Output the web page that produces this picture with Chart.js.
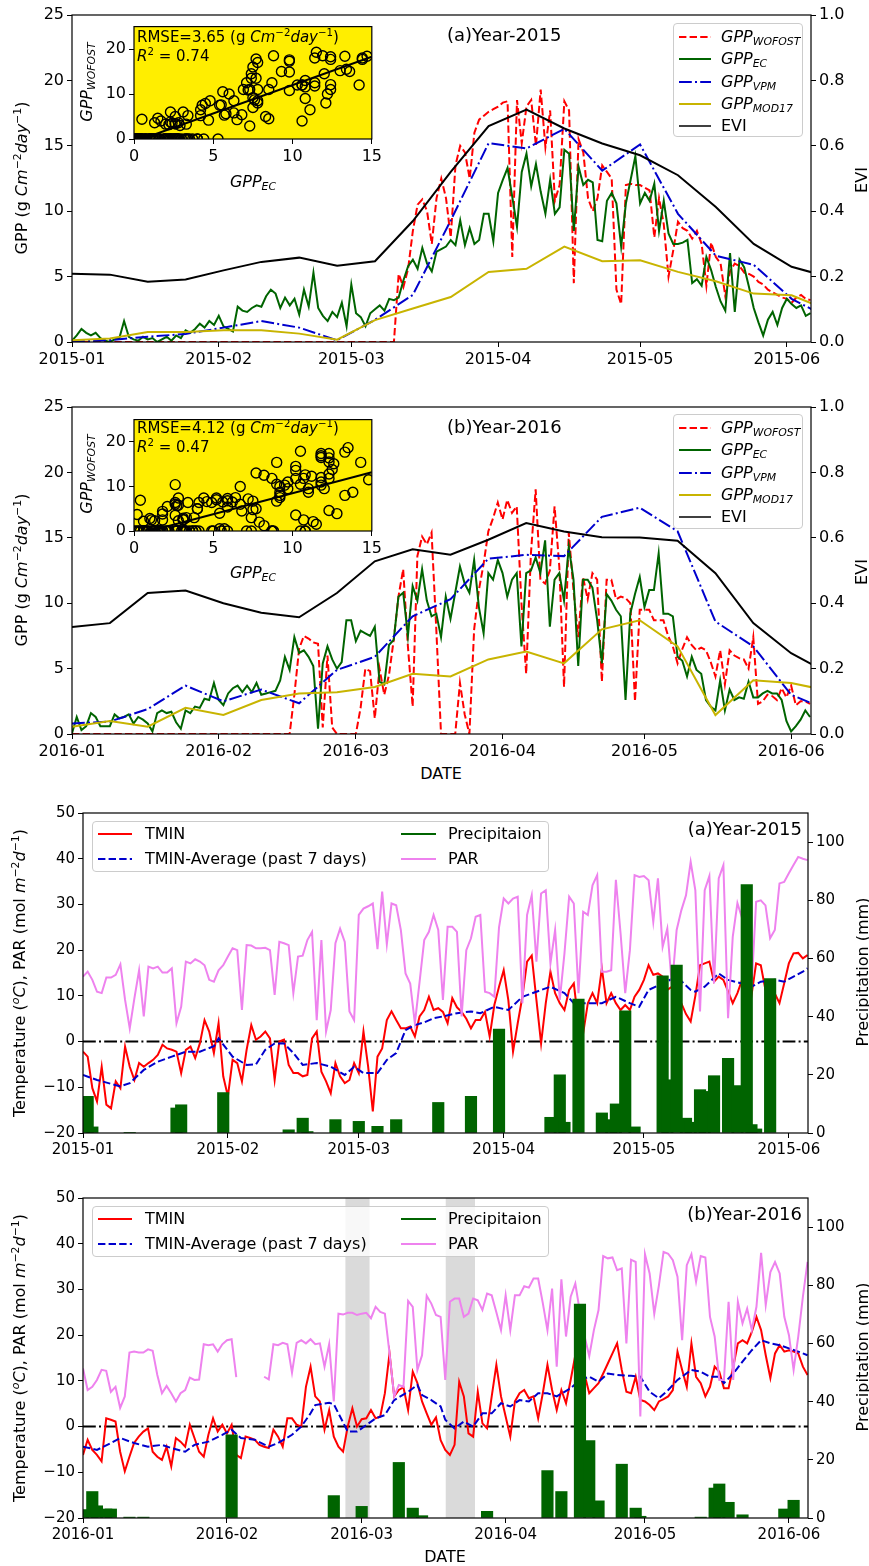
<!DOCTYPE html>
<html>
<head>
<meta charset="utf-8">
<title>GPP and weather, 2015-2016</title>
<script src="https://cdn.jsdelivr.net/npm/chart.js@4/dist/chart.umd.min.js"></script>
<style>
  html, body { margin:0; padding:0; background:#fff; }
  body { position:relative; width:869px; height:1566px; overflow:hidden; font-family:"DejaVu Sans", sans-serif; color:#000; }
  canvas { position:absolute; }
  .txt { position:absolute; white-space:nowrap; line-height:1; }
  .vc { transform:translateY(-50%); }
  .ctr { transform:translate(-50%,-50%); }
  .rt { transform:translate(-100%,-50%); }
  .rot { transform:translate(-50%,-50%) rotate(-90deg); }
  sub { font-size:0.68em; vertical-align:-0.3em; line-height:0; }
  sup { font-size:0.68em; vertical-align:0.55em; line-height:0; }
  .legend { position:absolute; border:1px solid #cccccc; border-radius:4px; background:rgba(255,255,255,0.8); box-sizing:border-box; }
  .legend svg { position:absolute; }
  .legend span { position:absolute; white-space:nowrap; line-height:1; transform:translateY(-50%); }
</style>
</head>
<body>
<canvas id="gpp2015" width="869" height="372" style="left:0;top:0"></canvas>
<canvas id="gpp2016" width="869" height="370" style="left:0;top:392px"></canvas>
<canvas id="met2015" width="869" height="362" style="left:0;top:798px"></canvas>
<canvas id="met2016" width="869" height="370" style="left:0;top:1183px"></canvas>
<canvas id="ins2015" width="290" height="170" style="left:95px;top:14px"></canvas>
<canvas id="ins2016" width="290" height="170" style="left:95px;top:407px"></canvas>

<!-- panel 1 -->
<div class="txt rot" style="left:22px;top:178px;font-size:16px">GPP (g <i>Cm</i><sup>−2</sup><i>day</i><sup>−1</sup>)</div>
<div class="txt rot" style="left:862px;top:180px;font-size:16px">EVI</div>
<div class="txt vc" style="left:447px;top:35px;font-size:18px">(a)Year-2015</div>
<div class="legend" style="left:673px;top:23px;width:130px;height:114px;font-size:16px">
  <svg width="32" height="10" style="left:5px;top:8px"><line x1="0" y1="5" x2="32" y2="5" stroke="#ff0000" stroke-width="2" stroke-dasharray="7.4,3.2"/></svg>
  <span style="left:47px;top:13px"><i>GPP<sub>WOFOST</sub></i></span>
  <svg width="32" height="10" style="left:5px;top:30px"><line x1="0" y1="5" x2="32" y2="5" stroke="#006400" stroke-width="2"/></svg>
  <span style="left:47px;top:35px"><i>GPP<sub>EC</sub></i></span>
  <svg width="32" height="10" style="left:5px;top:53px"><line x1="0" y1="5" x2="32" y2="5" stroke="#0000cd" stroke-width="2" stroke-dasharray="12.8,3.2,2,3.2"/></svg>
  <span style="left:47px;top:58px"><i>GPP<sub>VPM</sub></i></span>
  <svg width="32" height="10" style="left:5px;top:75px"><line x1="0" y1="5" x2="32" y2="5" stroke="#c8b400" stroke-width="2"/></svg>
  <span style="left:47px;top:80px"><i>GPP<sub>MOD17</sub></i></span>
  <svg width="32" height="10" style="left:5px;top:97px"><line x1="0" y1="5" x2="32" y2="5" stroke="#000" stroke-width="1.5"/></svg>
  <span style="left:47px;top:102px">EVI</span>
</div>
<div class="txt rot" style="left:87px;top:82px;font-size:16px"><i>GPP<sub>WOFOST</sub></i></div>
<div class="txt ctr" style="left:253px;top:182px;font-size:16px"><i>GPP<sub>EC</sub></i></div>
<div class="txt vc" id="rmse2015" style="left:137px;top:37px;font-size:15px"></div>
<div class="txt vc" id="r2_2015" style="left:137px;top:56px;font-size:15px"></div>

<!-- panel 2 -->
<div class="txt rot" style="left:22px;top:570px;font-size:16px">GPP (g <i>Cm</i><sup>−2</sup><i>day</i><sup>−1</sup>)</div>
<div class="txt rot" style="left:862px;top:572px;font-size:16px">EVI</div>
<div class="txt vc" style="left:447px;top:427px;font-size:18px">(b)Year-2016</div>
<div class="txt ctr" style="left:441px;top:774px;font-size:16px">DATE</div>
<div class="legend" style="left:673px;top:414px;width:130px;height:115px;font-size:16px">
  <svg width="32" height="10" style="left:5px;top:8px"><line x1="0" y1="5" x2="32" y2="5" stroke="#ff0000" stroke-width="2" stroke-dasharray="7.4,3.2"/></svg>
  <span style="left:47px;top:13px"><i>GPP<sub>WOFOST</sub></i></span>
  <svg width="32" height="10" style="left:5px;top:30px"><line x1="0" y1="5" x2="32" y2="5" stroke="#006400" stroke-width="2"/></svg>
  <span style="left:47px;top:35px"><i>GPP<sub>EC</sub></i></span>
  <svg width="32" height="10" style="left:5px;top:53px"><line x1="0" y1="5" x2="32" y2="5" stroke="#0000cd" stroke-width="2" stroke-dasharray="12.8,3.2,2,3.2"/></svg>
  <span style="left:47px;top:58px"><i>GPP<sub>VPM</sub></i></span>
  <svg width="32" height="10" style="left:5px;top:75px"><line x1="0" y1="5" x2="32" y2="5" stroke="#c8b400" stroke-width="2"/></svg>
  <span style="left:47px;top:80px"><i>GPP<sub>MOD17</sub></i></span>
  <svg width="32" height="10" style="left:5px;top:97px"><line x1="0" y1="5" x2="32" y2="5" stroke="#000" stroke-width="1.5"/></svg>
  <span style="left:47px;top:102px">EVI</span>
</div>
<div class="txt rot" style="left:87px;top:474px;font-size:16px"><i>GPP<sub>WOFOST</sub></i></div>
<div class="txt ctr" style="left:253px;top:573px;font-size:16px"><i>GPP<sub>EC</sub></i></div>
<div class="txt vc" id="rmse2016" style="left:137px;top:428px;font-size:15px"></div>
<div class="txt vc" id="r2_2016" style="left:137px;top:447px;font-size:15px"></div>

<!-- panel 3 -->
<div class="txt rot" style="left:20px;top:973px;font-size:16px">Temperature (<i><sup>o</sup>C</i>), PAR (mol <i>m</i><sup>−2</sup><i>d</i><sup>−1</sup>)</div>
<div class="txt rot" style="left:863px;top:972px;font-size:16px">Precipitation (mm)</div>
<div class="txt rt" style="left:802px;top:829px;font-size:18px">(a)Year-2015</div>
<div class="legend" style="left:92px;top:821px;width:457px;height:51px;font-size:16px">
  <svg width="34" height="10" style="left:5px;top:7px"><line x1="0" y1="5" x2="34" y2="5" stroke="#ff0000" stroke-width="2"/></svg>
  <span style="left:52px;top:12px">TMIN</span>
  <svg width="34" height="10" style="left:5px;top:32px"><line x1="0" y1="5" x2="34" y2="5" stroke="#0000cd" stroke-width="2" stroke-dasharray="7.4,3.2"/></svg>
  <span style="left:52px;top:37px">TMIN-Average (past 7 days)</span>
  <svg width="35" height="10" style="left:308px;top:7px"><line x1="0" y1="5" x2="35" y2="5" stroke="#006400" stroke-width="2"/></svg>
  <span style="left:355px;top:12px">Precipitaion</span>
  <svg width="35" height="10" style="left:308px;top:32px"><line x1="0" y1="5" x2="35" y2="5" stroke="#ee82ee" stroke-width="2"/></svg>
  <span style="left:355px;top:37px">PAR</span>
</div>

<!-- panel 4 -->
<div class="txt rot" style="left:20px;top:1358px;font-size:16px">Temperature (<i><sup>o</sup>C</i>), PAR (mol <i>m</i><sup>−2</sup><i>d</i><sup>−1</sup>)</div>
<div class="txt rot" style="left:863px;top:1357px;font-size:16px">Precipitation (mm)</div>
<div class="txt rt" style="left:802px;top:1214px;font-size:18px">(b)Year-2016</div>
<div class="txt ctr" style="left:445px;top:1557px;font-size:16px">DATE</div>
<div class="legend" style="left:92px;top:1206px;width:457px;height:51px;font-size:16px">
  <svg width="34" height="10" style="left:5px;top:7px"><line x1="0" y1="5" x2="34" y2="5" stroke="#ff0000" stroke-width="2"/></svg>
  <span style="left:52px;top:12px">TMIN</span>
  <svg width="34" height="10" style="left:5px;top:32px"><line x1="0" y1="5" x2="34" y2="5" stroke="#0000cd" stroke-width="2" stroke-dasharray="7.4,3.2"/></svg>
  <span style="left:52px;top:37px">TMIN-Average (past 7 days)</span>
  <svg width="35" height="10" style="left:308px;top:7px"><line x1="0" y1="5" x2="35" y2="5" stroke="#006400" stroke-width="2"/></svg>
  <span style="left:355px;top:12px">Precipitaion</span>
  <svg width="35" height="10" style="left:308px;top:32px"><line x1="0" y1="5" x2="35" y2="5" stroke="#ee82ee" stroke-width="2"/></svg>
  <span style="left:355px;top:37px">PAR</span>
</div>

<script>
// ---- axes: day of year (0 = Jan 1) and month tick labels
var months2015 = [0, 31, 59, 90, 120, 151];
var monthLabels2015 = ['2015-01', '2015-02', '2015-03', '2015-04', '2015-05', '2015-06'];
var months2016 = [0, 31, 60, 91, 121, 152];
var monthLabels2016 = ['2016-01', '2016-02', '2016-03', '2016-04', '2016-05', '2016-06'];

// ---- 8-day products (EVI, VPM, MOD17), node days
var nodeDays = [0, 8, 16, 24, 32, 40, 48, 56, 64, 72, 80, 88, 96, 104, 112, 120, 128, 136, 144, 152, 160];
var evi2015 = [0.209, 0.206, 0.184, 0.191, 0.219, 0.245, 0.258, 0.233, 0.247, 0.37, 0.52, 0.66, 0.711, 0.653, 0.607, 0.571, 0.51, 0.413, 0.30, 0.23, 0.198];
var vpm2015 = [0, 0.15, 0.4, 0.62, 1.1, 1.6, 1.1, 0.13, 1.7, 3.6, 9.3, 15.2, 14.8, 16.3, 13.1, 15.1, 9.8, 6.6, 5.9, 3.3, 1.8];
var mod17_2015 = [0.13, 0.26, 0.77, 0.77, 0.9, 0.9, 0.64, 0.18, 1.67, 2.56, 3.44, 5.36, 5.6, 7.3, 6.17, 6.25, 5.36, 4.64, 3.7, 3.57, 2.4];
var evi2016 = [0.327, 0.339, 0.431, 0.439, 0.40, 0.371, 0.357, 0.431, 0.528, 0.565, 0.548, 0.594, 0.645, 0.619, 0.602, 0.601, 0.591, 0.492, 0.339, 0.247, 0.185];
var vpm2016 = [0.8, 0.95, 1.9, 3.7, 2.5, 3.4, 2.35, 4.9, 5.9, 9.0, 10.3, 13.4, 13.7, 13.6, 16.6, 17.3, 15.5, 8.6, 6.7, 3.0, 1.8];
var mod17_2016 = [0.56, 1.0, 0.56, 2.0, 1.45, 2.6, 3.1, 3.2, 3.6, 4.6, 4.4, 5.7, 6.3, 5.4, 8.0, 8.7, 6.7, 1.45, 4.1, 3.9, 3.3];

// ---- daily GPP (index = day of year)
var ec2015 = [
  0.1, 0.5, 1.0, 0.7, 0.5, 0.7, 0.3, 0.1, 0.0, 0.2,
  0.3, 1.6, 0.4, 0.2, 0.1, 0.4, 0.2, 0.3, 0.0, 0.2,
  0.4, 0.1, 0.5, 0.3, 0.9, 0.7, 1.0, 1.4, 1.1, 1.6,
  1.3, 2.0, 1.2, 1.0, 0.8, 2.7, 2.4, 2.3, 2.6, 2.8,
  2.7, 3.5, 4.0, 3.7, 2.6, 3.4, 2.8, 3.3, 2.1, 4.0,
  2.7, 5.3, 2.6, 2.0, 1.6, 2.3, 1.9, 3.0, 1.2, 4.4,
  2.2, 1.9, 1.2, 2.2, 2.5, 2.8, 2.4, 3.3, 3.2, 3.4,
  4.7, 5.8, 6.3, 5.6, 7.2, 6.0, 5.4, 6.9, 7.1, 7.3,
  7.8, 7.4, 9.3, 7.4, 8.7, 7.5, 7.8, 9.8, 9.8, 7.7,
  11.4, 12.4, 13.3, 11.1, 8.8, 13.0, 14.4, 11.9, 13.6, 11.5,
  9.8, 12.4, 9.8, 10.3, 14.7, 14.4, 8.5, 13.4, 12.0, 12.4,
  12.2, 7.8, 7.7, 10.8, 11.4, 10.6, 7.3, 10.6, 12.4, 14.2,
  10.6, 11.4, 10.8, 12.1, 8.5, 10.8, 8.3, 7.5, 7.5, 7.6,
  7.8, 4.5, 4.8, 4.3, 6.5, 5.5, 4.2, 3.1, 2.4, 6.8,
  2.3, 6.3, 5.7, 4.2, 2.6, 1.5, 0.5, 1.7, 2.3, 1.3,
  2.6, 3.3, 2.9, 2.6, 2.8, 2.0, 2.2
];
var wofost2015 = [
  0, 0, 0, 0, 0, 0, 0, 0, 0, 0,
  0, 0, 0, 0, 0, 0, 0, 0, 0, 0,
  0, 0, 0, 0, 0, 0, 0, 0, 0, 0,
  0, 0, 0, 0, 0, 0, 0, 0, 0, 0,
  0, 0, 0, 0, 0, 0, 0, 0, 0, 0,
  0, 0, 0, 0, 0, 0, 0, 0, 0, 0,
  0, 0, 0, 0, 0, 0, 0, 0, 0,
  5.2, 4.2, 5.6, 8.5, 10.5, 10.9, 10.0, 7.5, 11.0, 12.5,
  11.0, 8.0, 13.5, 15.0, 14.5, 12.5, 16.0, 17.0, 17.3, 17.6,
  17.8, 18.0, 18.3, 18.4, 6.5, 18.5, 15.2, 18.0, 18.5, 15.0,
  19.3, 14.9, 17.7, 10.8, 12.0, 18.4, 17.7, 4.5, 15.5, 14.5,
  11.0, 10.0, 11.0, 13.5, 13.0, 12.5, 4.0, 2.9, 12.0, 12.1,
  12.0, 12.0, 11.8, 11.6, 8.0, 11.0, 9.0, 5.0, 7.0, 9.2,
  8.7, 8.5, 7.9, 8.5, 7.5, 4.3, 7.6, 6.5, 6.0, 3.5,
  5.4, 6.0, 5.8, 5.3, 5.2, 5.0, 4.6, 4.4, 4.0, 3.8,
  3.6, 3.4, 3.3, 3.0, 3.4, 3.6, 3.3, 3.2
];
var ec2016 = [
  0.05, 1.3, 0.3, 0.6, 1.6, 1.3, 0.6, 0.6, 0.6, 1.5,
  1.2, 1.3, 1.5, 0.8, 1.3, 1.1, 0.8, 0.2, 1.6, 1.8,
  1.6, 1.7, 0.9, 0.4, 1.8, 1.6, 2.1, 2.0, 2.7, 2.6,
  3.9, 2.6, 2.2, 3.1, 3.5, 3.7, 3.2, 3.7, 3.2, 3.9,
  3.0, 3.1, 3.2, 3.3, 4.1, 5.9, 4.9, 7.4, 6.2, 6.4,
  5.9, 5.2, 0.4, 5.4, 6.7, 5.7, 5.0, 5.5, 8.7, 8.7,
  7.1, 7.9, 7.7, 7.5, 8.2, 4.0, 3.8, 6.8, 7.2, 10.5,
  10.8, 7.5, 11.3, 10.2, 12.6, 10.2, 9.0, 9.2, 7.4, 10.5,
  8.8, 10.8, 12.8, 11.5, 10.8, 13.3, 9.7, 7.7, 12.3, 11.8,
  13.3, 12.3, 10.5, 11.8, 12.3, 6.7, 12.3, 12.5, 13.5, 12.3,
  14.8, 8.2, 11.8, 12.3, 10.2, 14.3, 11.8, 5.2, 11.8, 11.8,
  11.2, 8.7, 5.4, 10.7, 10.2, 9.5, 9.0, 2.6, 9.2, 10.7,
  12.0, 9.7, 11.0, 11.0, 13.8, 9.2, 9.2, 9.0, 5.9, 5.6,
  4.4, 5.9, 4.9, 4.6, 2.6, 2.1, 1.8, 4.1, 1.8, 3.4,
  2.6, 2.8, 2.7, 4.0, 2.8, 2.8, 3.1, 3.3, 3.1, 3.1,
  2.6, 1.0, 0.2, 0.6, 1.1, 1.8, 1.3
];
var wofost2016 = [
  0, 0, 0, 0, 0, 0, 0, 0, 0, 0,
  0, 0, 0, 0, 0, 0, 0, 0, 0, 0,
  0, 0, 0, 0, 0, 0, 0, 0, 0, 0,
  0, 0, 0, 0, 0, 0, 0, 0, 0, 0,
  0, 0, 0, 0, 0, 0, 0,
  3.0, 6.5, 7.5, 7.3, 7.0, 6.9, 0.5, 6.0, 0.5, 0,
  0, 0, 0, 0, 2.0, 5.0, 4.8, 1.2, 5.0, 3.0,
  4.5, 7.2, 10.5, 12.6, 6.7, 2.1, 13.6, 15.1, 14.5, 15.4,
  8.0, 0, 0, 0, 0, 3.9, 1.5, 0, 8.0, 11.0,
  13.0, 15.5, 16.5, 17.7, 16.4, 17.9, 16.9, 17.4, 10.0, 4.6,
  13.8, 18.7, 11.8, 11.5, 12.5, 17.4, 12.8, 3.6, 15.4, 11.0,
  7.4, 12.0, 10.3, 12.3, 11.8, 4.0, 11.8, 11.8, 10.3, 10.5,
  10.4, 10.0, 2.5, 9.5, 9.5, 9.5, 8.7, 8.7, 8.7, 7.5,
  6.7, 5.4, 6.5, 7.4, 6.8, 6.4, 6.6, 6.4, 5.5, 4.4,
  6.4, 3.8, 6.4, 6.0, 5.8, 5.7, 5.0, 7.4, 2.3, 2.5,
  3.0, 2.9, 2.6, 3.5, 2.8, 3.7, 2.2, 2.5, 2.5, 2.3
];

// ---- inset statistics and fitted line ends
var stats2015 = [3.65, 0.74];
var stats2016 = [4.12, 0.47];
var fitX2015 = [0.5, 15], fitY2015 = [0, 18.3];
var fitX2016 = [1.0, 15], fitY2016 = [0, 13.2];

// ---- daily weather
var tmin2015 = [
  -2.2, -3.3, -10.2, -13.1, -5.5, -13.8, -14.6, -8.7, -10.2, -1.1,
  -5.5, -8.4, -4.7, -5.5, -4.7, -4.0, -2.9, -0.7, -1.5, -1.8,
  -2.2, -6.9, -1.8, -1.1, -3.6, -0.4, 4.7, 2.2, -2.5, 4.0,
  -7.6, -12.0, -4.0, -4.7, -8.7, -1.8, 3.6, 0.4, 1.1, 2.2,
  0.7, -8.4, 0, 0.4, -5.1, -6.9, -6.9, -7.6, -7.3, 0.7,
  2.2, -6.6, -8.7, -11.3, -4.7, -7.6, -9.1, -8.4, -4.7, -6.9,
  2.2, -5.5, -15.3, -3.3, -1.5, 4.7, 6.6, 4.7, 2.9, 2.9,
  3.3, 1.1, 5.5, 6.9, 9.8, 6.9, 7.3, 6.5, 4.0, 9.5,
  7.5, 6.5, 5.0, 2.9, 4.7, 4.7, 6.5, 1.1, 8.0, 12.0,
  15.6, 9.0, -2.2, 4.0, 9.8, 17.5, 18.8, 9.1, -0.4, 8.4,
  15.3, 10.6, 8.4, 6.9, 11.3, 12.7, 4.0, 1.8, 8.4, 10.6,
  8.4, 16.0, 8.4, 10.6, 8.4, 6.9, 8.0, 6.9, 9.8, 11.3,
  13.5, 16.7, 14.6, 14.9, 14.2, 11.3, 12.0, 9.8, 8.4, 6.0,
  4.4, 10.0, 16.7, 17.1, 17.5, 13.1, 14.2, 13.5, 11.0, 8.4,
  10.6, 13.5, 11.5, 10.0, 17.1, 16.7, 11.3, 9.8, 10.5, 8.4,
  12.7, 17.1, 19.3, 19.4, 18.2, 18.9
];
var tminAvgDays2015 = [0, 3, 8, 10, 13, 16, 19, 22, 25, 28, 29, 32, 35, 37, 39, 41, 43, 45, 47, 50, 53, 56, 58, 60, 63, 65, 67, 69, 71, 73, 75, 77, 80, 83, 85, 88, 91, 94, 97, 100, 103, 105, 108, 111, 114, 117, 119, 121, 124, 127, 130, 131, 133, 136, 138, 141, 143, 145, 148, 150, 152, 154, 155];
var tminAvg2015 = [-7.3, -8.4, -9.8, -9.1, -6.2, -4.4, -3.3, -2.2, -2.2, -1.0, 0.7, -3.3, -5.1, -5.0, -1.8, -0.4, -0.4, -2.5, -5.1, -4.7, -5.5, -7.3, -5.5, -6.9, -6.9, -4.0, -2.5, 2.5, 3.6, 4.2, 5.1, 5.5, 6.2, 6.6, 6.2, 7.6, 6.9, 9.8, 10.9, 12.0, 10.6, 8.4, 8.4, 8.4, 9.8, 8.4, 7.6, 11.3, 12.7, 14.2, 11.3, 10.9, 12.0, 14.9, 13.5, 12.7, 12.0, 13.1, 13.5, 13.1, 14.2, 15.3, 16.0];
var par2015 = [
  14.2, 15.3, 13.5, 10.9, 10.6, 14.0, 14.0, 14.6, 16.9, 9.1,
  2.9, 9.5, 15.6, 5.5, 16.4, 16.0, 16.4, 15.1, 15.1, 16.0,
  4.0, 7.6, 17.5, 17.1, 18.0, 17.5, 16.7, 13.5, 13.1, 15.6,
  16.7, 18.6, 20.4, 20.0, 6.9, 21.1, 21.0, 20.4, 20.4, 20.5,
  20.0, 10.2, 21.8, 21.5, 21.1, 10.6, 18.6, 18.8, 22.2, 24.0,
  4.7, 22.2, 2.2, 6.9, 21.5, 24.7, 21.8, 6.6, 4.7, 27.7,
  29.1, 29.6, 30.2, 20.2, 32.8, 21.3, 30.2, 29.8, 24.4, 14.9,
  12.7, 4.0, 13.0, 22.2, 24.0, 27.7, 24.4, 9.1, 25.1, 25.1,
  24.0, 5.5, 20.0, 22.6, 27.3, 27.7, 10.9, 10.6, 9.8, 25.0,
  31.3, 30.2, 31.3, 31.7, 8.4, 27.7, 32.0, 17.5, 32.4, 33.1,
  17.1, 24.4, 9.1, 19.3, 31.7, 30.2, 10.6, 28.4, 27.7, 34.2,
  36.4, 15.3, 15.3, 15.6, 35.4, 23.7, 10.6, 20.0, 36.4, 36.0,
  36.2, 35.3, 26.2, 35.7, 20.7, 24.7, 12.0, 24.4, 28.7, 32.0,
  39.3, 33.1, 6.6, 33.1, 36.2, 12.7, 35.7, 38.6, 5.1, 22.9,
  30.3, 27.0, 20.0, 11.3, 30.6, 30.9, 29.8, 22.6, 24.4, 34.6,
  34.9, 36.8, 38.6, 40.4, 40.0, 39.7
];
var precipDays2015 = [1, 2, 10, 20, 21, 30, 44, 47, 48, 54, 59, 63, 67, 76, 83, 89, 100, 102, 103, 106, 111, 113, 114, 116, 118, 124, 125, 127, 129, 130, 132, 133, 135, 138, 140, 142, 143, 144, 147];
var precip2015 = [12.6, 2.1, 0.2, 8.6, 9.7, 13.9, 1.1, 5.1, 0.5, 4.6, 4.0, 2.3, 4.6, 10.5, 12.6, 35.7, 5.4, 20.0, 3.7, 46.0, 6.9, 4.6, 10.0, 42.0, 2.1, 54.0, 18.3, 57.7, 5.1, 3.7, 14.9, 14.3, 19.7, 25.7, 16.3, 85.4, 2.9, 1.4, 53.1];

var tmin2016 = [
  -6.2, -2.9, -5.1, -6.2, -7.6, 1.8, 1.5, 1.1, -5.5, -9.8,
  -6.6, -3.6, -2.2, -1.1, -0.4, -5.5, -6.6, -7.3, -4.4, -8.7,
  -2.5, -3.3, -4.4, 0.4, -2.5, -5.5, -6.6, -1.8, 1.8, -1.1,
  0.4, -1.5, 0.4, -6.2, -6.9, -2.2, -2.5, -2.9, -4.0, -4.4,
  -4.7, -0.7, -2.2, -4.4, 1.8, 1.8, 0.4, 0, 8.7, 13.1,
  6.6, 5.5, -0.7, 3.6, -2.2, -4.4, -5.5, 0, 4.0, 0,
  1.6, 1.8, 3.6, 1.8, 2.2, 7.3, 16.0, 6.6, 8.0, 8.6,
  3.6, 12.0, 9.5, 5.5, 2.9, 0.4, 2.0, -3.0, -5.1, -6.2,
  -4.0, 9.8, 6.6, -1.5, -2.2, 7.6, 0.7, -0.4, 6.6, 13.5,
  6.6, 2.2, -2.2, 5.5, 7.3, 8.0, 6.2, 6.6, 1.8, 7.3,
  13.5, 8.0, 3.6, 8.0, 5.1, 10.2, 15.6, 11.6, 11.3, 7.3,
  8.4, 9.5, 11.6, 13.8, 16.0, 18.2, 12.4, 7.6, 7.3, 10.9,
  5.8, 5.5, 4.7, 3.6, 5.5, 6.0, 6.6, 8.0, 16.4, 12.4,
  8.7, 18.2, 10.9, 9.5, 6.6, 8.7, 13.1, 12.0, 8.4, 8.4,
  13.1, 18.2, 18.9, 18.2, 20.7, 24.0, 21.1, 15.6, 10.6, 16.0,
  17.8, 16.4, 16.7, 16.4, 16.0, 13.1, 11.3
];
var tminAvgDays2016 = [0, 3, 6, 8, 11, 14, 17, 19, 22, 24, 27, 30, 32, 34, 37, 40, 42, 45, 47, 49, 50, 53, 54, 55, 57, 59, 60, 63, 65, 67, 70, 72, 73, 75, 77, 78, 80, 82, 84, 86, 88, 90, 92, 94, 96, 98, 100, 102, 105, 107, 109, 111, 113, 115, 118, 120, 122, 124, 126, 128, 131, 133, 135, 137, 138, 140, 142, 144, 146, 148, 150, 152, 154, 156];
var tminAvg2016 = [-4.4, -5.1, -3.6, -2.5, -3.6, -4.4, -4.0, -4.7, -5.5, -4.0, -3.3, -1.8, -0.7, -2.5, -2.9, -4.4, -3.6, -1.8, 0, 2.9, 4.7, 5.2, 4.9, 2.9, -1.1, -1.1, -0.4, 1.8, 2.5, 5.8, 7.6, 9.1, 6.9, 5.8, 4.4, 1.5, -0.4, 1.1, 0, 2.9, 2.9, 5.1, 4.4, 5.8, 5.5, 7.3, 7.3, 6.6, 8.4, 10.2, 10.9, 9.8, 11.6, 11.3, 11.1, 10.9, 7.6, 6.2, 8.0, 10.2, 12.4, 12.0, 10.9, 10.9, 9.5, 11.6, 14.2, 16.7, 18.9, 18.2, 17.8, 17.1, 16.4, 15.6];
var par2016 = [
  12.7, 8.0, 8.7, 10.2, 12.4, 12.2, 7.6, 8.7, 4.1, 6.6,
  16.2, 16.4, 16.2, 16.2, 16.9, 16.6, 11.3, 7.3, 8.9, 7.3,
  5.5, 7.3, 8.0, 10.7, 10.2, 10.3, 18.0, 17.8, 18.0, 16.4,
  18.0, 18.9, 19.1, 10.8, null, null, null, null, null, 10.9,
  10.3, 18.0, 17.8, 18.3, 18.0, 11.8, 18.3, 18.9, 18.2, 19.1,
  18.0, 18.2, 13.1, 18.0, 5.5, 24.7, 24.5, 24.9, 24.9, 24.4,
  24.7, 24.9, 23.7, 26.2, 25.1, 24.7, 16.0, 6.6, 9.1, 8.7,
  27.5, 26.2, 12.4, 15.6, 28.6, 26.9, 24.4, 24.0, 10.2, 27.3,
  28.0, 28.0, 24.0, 24.7, 28.0, 27.6, 25.5, 29.1, 28.7, 25.0,
  21.1, 28.7, 21.1, 28.7, 28.7, 30.7, 30.4, 32.4, 32.4, 27.0,
  21.1, 30.2, 13.1, 32.2, 19.7, 28.4, 31.3, 25.0, 19.7, 15.4,
  21.1, 25.5, 37.3, 36.8, 37.0, 34.2, 34.6, 18.2, 36.5, 36.0,
  2.2, 37.7, 33.5, 24.7, 30.9, 38.2, 37.8, 36.4, 32.8, 18.9,
  35.3, 37.7, 31.7, 37.3, 37.0, 24.0, 19.7, 10.2, 10.2, 27.3,
  10.2, 27.3, 22.6, 25.8, 21.1, 26.2, 38.0, 26.6, 33.8, 36.0,
  33.5, 24.0, 20.0, 12.4, 19.7, 28.4, 36.0
];
var precipDays2016 = [0, 2, 3, 5, 6, 10, 13, 32, 54, 60, 68, 71, 73, 87, 100, 103, 107, 109, 111, 116, 119, 120, 133, 136, 137, 139, 142, 151, 153];
var precip2016 = [2.9, 9.1, 4.2, 3.1, 3.1, 0.3, 0.3, 28.6, 7.7, 4.0, 19.1, 3.4, 0.8, 2.3, 16.3, 9.1, 73.5, 26.6, 5.9, 18.5, 3.4, 0.6, 0.3, 10.3, 11.7, 5.4, 1.1, 3.1, 6.1];
// highlighted periods in 2016 (day of year)
var shadeFrom2016 = [56.5, 78.1];
var shadeTo2016 = [61.7, 84.4];

// ---------------------------------------------------------------
Chart.defaults.font.family = "'DejaVu Sans', sans-serif";
Chart.defaults.color = '#000';
Chart.defaults.elements.point.radius = 0;
Chart.defaults.elements.line.tension = 0;
Chart.defaults.elements.line.borderWidth = 2;

function series(vals) {
  return vals.map(function (v, i) { return { x: i, y: v }; });
}
function pairs(xs, ys) {
  return xs.map(function (x, i) { return { x: x, y: ys[i] }; });
}

// spans, zero line, axes frame
var decorPlugin = {
  id: 'decor',
  beforeDatasetsDraw: function (chart, args, opts) {
    var a = chart.chartArea, ctx = chart.ctx;
    ctx.save();
    if (opts.fill) {
      ctx.fillStyle = opts.fill;
      ctx.fillRect(a.left, a.top, a.right - a.left, a.bottom - a.top);
    }
    if (opts.spanFrom) {
      ctx.fillStyle = '#dadada';
      opts.spanFrom.forEach(function (f, i) {
        var x1 = chart.scales.x.getPixelForValue(f);
        var x2 = chart.scales.x.getPixelForValue(opts.spanTo[i]);
        ctx.fillRect(x1, a.top, x2 - x1, a.bottom - a.top);
      });
    }
    if (opts.zeroLine) {
      var y = chart.scales.y.getPixelForValue(0);
      ctx.strokeStyle = '#000';
      ctx.lineWidth = 2;
      ctx.setLineDash([12.8, 3.2, 2, 3.2]);
      ctx.beginPath(); ctx.moveTo(a.left, y); ctx.lineTo(a.right, y); ctx.stroke();
    }
    ctx.restore();
  },
  afterDatasetsDraw: function (chart) {
    var a = chart.chartArea, ctx = chart.ctx;
    ctx.save();
    ctx.strokeStyle = '#000';
    ctx.lineWidth = 1.2;
    ctx.strokeRect(a.left, a.top, a.right - a.left, a.bottom - a.top);
    ctx.restore();
  }
};

function monthAxis(days, labels, max, size, height) {
  return {
    type: 'linear', min: 0, max: max, offset: false,
    grid: { drawOnChartArea: false, color: '#000', tickLength: 5, offset: false },
    border: { display: false },
    afterBuildTicks: function (s) { s.ticks = days.map(function (d) { return { value: d }; }); },
    ticks: { autoSkip: false, maxRotation: 0, padding: 3, font: { size: size },
      callback: function (v, i) { return labels[i]; } },
    afterFit: function (s) { s.height = height; }
  };
}
function valueAxis(pos, min, max, step, size, width, fmt) {
  return {
    type: 'linear', position: pos, min: min, max: max,
    grid: { drawOnChartArea: false, color: '#000', tickLength: 5 },
    border: { display: false },
    ticks: { stepSize: step, includeBounds: false, padding: 3, font: { size: size }, callback: fmt },
    afterFit: function (s) { s.width = width; }
  };
}
function fmtInt(v) { return v < 0 ? '\u2212' + Math.abs(v) : String(v); }
function fmt1(v) { return v.toFixed(1); }

function gppChart(id, evi, vpm, mod17, ec, wofost, days, labels, xMax, xHeight) {
  return new Chart(document.getElementById(id), {
    type: 'line',
    data: { datasets: [
      { data: pairs(nodeDays, evi), yAxisID: 'y2', borderColor: '#000', order: 0 },
      { data: pairs(nodeDays, mod17), yAxisID: 'y', borderColor: '#c8b400', order: 1 },
      { data: pairs(nodeDays, vpm), yAxisID: 'y', borderColor: '#0000cd', borderDash: [12.8, 3.2, 2, 3.2], order: 2 },
      { data: series(ec), yAxisID: 'y', borderColor: '#006400', order: 3 },
      { data: series(wofost), yAxisID: 'y', borderColor: '#ff0000', borderDash: [7.4, 3.2], order: 4 }
    ] },
    options: {
      responsive: false, animation: false, events: [],
      layout: { padding: { top: 15, left: 0, right: 0, bottom: 0 } },
      plugins: { legend: { display: false }, tooltip: { enabled: false }, decor: {} },
      scales: {
        x: monthAxis(days, labels, xMax, 16, xHeight),
        y: valueAxis('left', 0, 25, 5, 16, 72, fmtInt),
        y2: valueAxis('right', 0, 1, 0.2, 16, 58, fmt1)
      }
    },
    plugins: [decorPlugin]
  });
}

function metChart(id, tmin, avgDays, avg, par, pDays, p, days, labels, xMax, xHeight, spanFrom, spanTo) {
  return new Chart(document.getElementById(id), {
    type: 'line',
    data: { datasets: [
      { type: 'bar', data: pairs(pDays, p), yAxisID: 'y2', backgroundColor: '#006400', borderWidth: 0,
        barThickness: 11.5, clip: 0, order: 0 },
      { data: series(par), yAxisID: 'y', borderColor: '#ee82ee', order: 1 },
      { data: pairs(avgDays, avg), yAxisID: 'y', borderColor: '#0000cd', borderDash: [7.4, 3.2], order: 2 },
      { data: series(tmin), yAxisID: 'y', borderColor: '#ff0000', order: 3 }
    ] },
    options: {
      responsive: false, animation: false, events: [],
      layout: { padding: { top: 15, left: 0, right: 0, bottom: 0 } },
      plugins: { legend: { display: false }, tooltip: { enabled: false },
        decor: { zeroLine: true, spanFrom: spanFrom, spanTo: spanTo } },
      scales: {
        x: monthAxis(days, labels, xMax, 15, xHeight),
        y: valueAxis('left', -20, 50, 10, 15, 83, fmtInt),
        y2: valueAxis('right', 0, 110, 20, 15, 61, fmtInt)
      }
    },
    plugins: [decorPlugin]
  });
}

function insetChart(id, ec, wofost, fx, fy, xHeight) {
  var pts = ec.map(function (v, i) { return { x: v, y: wofost[i] }; });
  return new Chart(document.getElementById(id), {
    type: 'scatter',
    data: { datasets: [
      { type: 'line', data: pairs(fx, fy), borderColor: '#000', borderWidth: 2, pointRadius: 0, order: 0 },
      { data: pts, pointRadius: 5, borderColor: '#000', borderWidth: 1.4, backgroundColor: 'rgba(0,0,0,0)', clip: 0, order: 1 }
    ] },
    options: {
      responsive: false, animation: false, events: [],
      layout: { padding: { top: 10, left: 0, right: 13, bottom: 0 } },
      plugins: { legend: { display: false }, tooltip: { enabled: false }, decor: { fill: '#ffee00' } },
      scales: {
        x: { type: 'linear', min: 0, max: 15,
          grid: { drawOnChartArea: false, color: '#000', tickLength: 5 }, border: { display: false },
          ticks: { stepSize: 5, padding: 3, maxRotation: 0, font: { size: 16 } },
          afterFit: function (s) { s.height = xHeight; } },
        y: valueAxis('left', 0, 25, 10, 16, 39, fmtInt)
      }
    },
    plugins: [decorPlugin]
  });
}

gppChart('gpp2015', evi2015, vpm2015, mod17_2015, ec2015, wofost2015, months2015, monthLabels2015, 156.1, 30);
gppChart('gpp2016', evi2016, vpm2016, mod17_2016, ec2016, wofost2016, months2016, monthLabels2016, 156.2, 28);
metChart('met2015', tmin2015, tminAvgDays2015, tminAvg2015, par2015, precipDays2015, precip2015,
  months2015, monthLabels2015, 155.1, 27, null, null);
metChart('met2016', tmin2016, tminAvgDays2016, tminAvg2016, par2016, precipDays2016, precip2016,
  months2016, monthLabels2016, 156.1, 35, shadeFrom2016, shadeTo2016);
insetChart('ins2015', ec2015, wofost2015, fitX2015, fitY2015, 45);
insetChart('ins2016', ec2016, wofost2016, fitX2016, fitY2016, 46);

function statText(s) {
  return ['RMSE=' + s[0].toFixed(2) + ' (g <i>Cm</i><sup>\u22122</sup><i>day</i><sup>\u22121</sup>)',
          '<i>R</i><sup>2</sup> = ' + s[1].toFixed(2)];
}
document.getElementById('rmse2015').innerHTML = statText(stats2015)[0];
document.getElementById('r2_2015').innerHTML = statText(stats2015)[1];
document.getElementById('rmse2016').innerHTML = statText(stats2016)[0];
document.getElementById('r2_2016').innerHTML = statText(stats2016)[1];
</script>
</body>
</html>
